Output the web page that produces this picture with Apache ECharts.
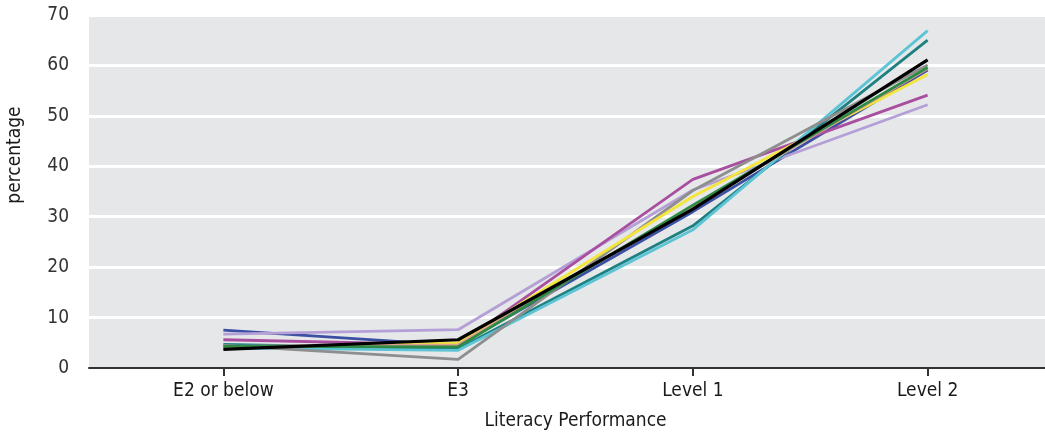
<!DOCTYPE html>
<html>
<head>
<meta charset="utf-8">
<script src="https://cdn.jsdelivr.net/npm/echarts@6/dist/echarts.min.js"></script>
<style>html,body{margin:0;padding:0;background:#fff}#c{width:1045px;height:437px}</style>
</head>
<body>
<div id="c"></div>
<script>
var categories = ['E2 or below', 'E3', 'Level 1', 'Level 2'];
var yTicks = [0, 10, 20, 30, 40, 50, 60, 70];
var seriesNames = ['blue', 'lavender', 'magenta', 'darkteal', 'cyan', 'gray', 'yellow', 'salmon', 'green', 'black'];
var blueVals = [7.5, 4.5, 31.0, 59.1];
var lavenderVals = [6.7, 7.6, 35.3, 52.2];
var magentaVals = [5.6, 4.6, 37.4, 54.1];
var darktealVals = [4.7, 3.8, 28.2, 65.0];
var cyanVals = [4.0, 3.5, 27.4, 66.9];
var grayVals = [4.5, 1.7, 35.2, 60.1];
var yellowVals = [4.0, 5.0, 34.0, 58.2];
var salmonVals = [4.3, 4.6, 32.1, 59.4];
var greenVals = [4.3, 4.2, 32.3, 59.6];
var blackVals = [3.7, 5.6, 31.5, 61.1];

var valueSets = [blueVals, lavenderVals, magentaVals, darktealVals, cyanVals, grayVals, yellowVals, salmonVals, greenVals, blackVals];
var colors = ['#3b4fa3', '#b4a0d6', '#a84fa0', '#1e8080', '#5cc4d4', '#8e8e8e', '#f3e53a', '#e0a090', '#2e8b45', '#000000'];
var FONT = '"DejaVu Sans Condensed", "Roboto", sans-serif';

var series = valueSets.map(function (v, i) {
  return {
    name: seriesNames[i], type: 'line', xAxisIndex: 1, yAxisIndex: 1,
    data: v, symbol: 'none', silent: true,
    lineStyle: { color: colors[i], width: i === 9 ? 3.2 : 2.8 },
    z: 3 + i
  };
});

var chart = echarts.init(document.getElementById('c'));
chart.setOption({
  animation: false,
  grid: [
    { left: 89, right: 0, top: 15, bottom: 69, show: true, backgroundColor: '#e6e7e8', borderWidth: 0 },
    { left: 106, right: 0, top: 15, bottom: 69 }
  ],
  xAxis: [
    { type: 'category', gridIndex: 0, data: [''], axisLine: { show: true, lineStyle: { color: '#333', width: 2 } }, axisTick: { show: false }, axisLabel: { show: false }, z: 10 },
    { type: 'category', gridIndex: 1, data: categories, boundaryGap: true,
      axisLine: { show: false },
      axisTick: { show: true, alignWithLabel: true, length: 8, lineStyle: { color: '#333', width: 2 } },
      axisLabel: { color: '#1a1a1a', fontSize: 19, fontFamily: FONT, margin: 14 },
      name: 'Literacy Performance', nameLocation: 'middle', nameGap: 44,
      nameTextStyle: { color: '#1a1a1a', fontSize: 19, fontFamily: FONT } }
  ],
  yAxis: [
    { type: 'value', gridIndex: 0, min: yTicks[0], max: yTicks[yTicks.length - 1], interval: 10,
      axisLine: { show: false }, axisTick: { show: false },
      axisLabel: { color: '#333', fontSize: 19, fontFamily: FONT, margin: 20 },
      splitLine: { show: true, lineStyle: { color: '#ffffff', width: 3 } } },
    { type: 'value', gridIndex: 1, min: 0, max: 70, interval: 10, show: false, splitLine: { show: false } }
  ],
  graphic: [
    { type: 'text', x: 15, y: 155, rotation: Math.PI / 2, style: { text: 'percentage', fill: '#1a1a1a', font: '19px ' + FONT, textAlign: 'center', textVerticalAlign: 'middle' } }
  ],
  series: series
});
</script>
</body>
</html>
